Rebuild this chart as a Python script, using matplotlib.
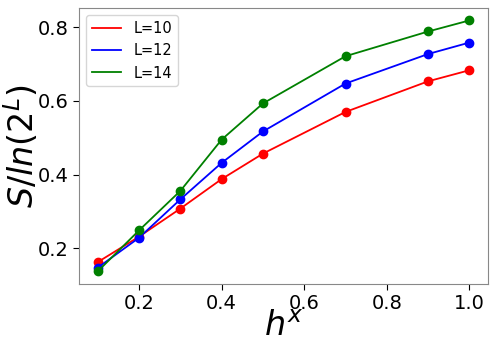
import matplotlib
matplotlib.use("Agg")
import matplotlib.pyplot as plt

hx = [0.1, 0.2, 0.3, 0.4, 0.5, 0.7, 0.9, 1.0]
s_L10 = [0.163, 0.232, 0.308, 0.388, 0.457, 0.570, 0.653, 0.683]
s_L12 = [0.148, 0.229, 0.333, 0.432, 0.517, 0.647, 0.727, 0.758]
s_L14 = [0.138, 0.249, 0.356, 0.495, 0.593, 0.721, 0.788, 0.818]
labels = ["L=10", "L=12", "L=14"]
colors = ["red", "blue", "green"]

fig = plt.figure(figsize=(4.98, 3.42), dpi=100)
ax = fig.add_axes([0.159, 0.170, 0.821, 0.807])
for ys, lab, c in zip([s_L10, s_L12, s_L14], labels, colors):
    ax.plot(hx, ys, '-', color=c, label=lab, lw=1.3)
    ax.plot(hx, ys, 'o', color=c, ms=6)
ax.set_xticks([0.2, 0.4, 0.6, 0.8, 1.0])
ax.set_yticks([0.2, 0.4, 0.6, 0.8])
ax.tick_params(labelsize=14, length=4)
ax.set_xlabel(r'$h^x$', fontsize=24, labelpad=-2)
ax.set_ylabel(r'$S/ln(2^L)$', fontsize=24, labelpad=-2)
ax.legend(loc='upper left', fontsize=10.5)
for sp in ax.spines.values():
    sp.set_color('#888888')
fig.savefig("out.png", dpi=100)
